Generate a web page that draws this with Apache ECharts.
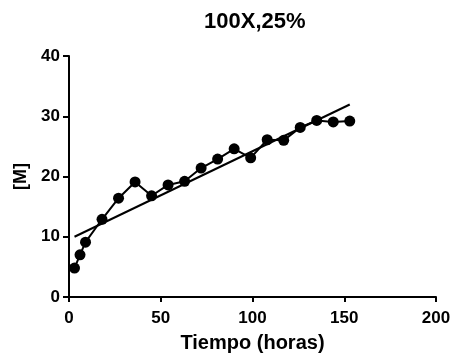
<!DOCTYPE html>
<html>
<head>
<meta charset="utf-8">
<script src="https://cdn.jsdelivr.net/npm/echarts@6/dist/echarts.min.js"></script>
<style>html,body{margin:0;padding:0;background:#fff}#c{width:454px;height:358px}</style>
</head>
<body>
<div id="c"></div>
<script>
var titleText = "100X,25%";
var xName = "Tiempo (horas)";
var yName = "[M]";
var hours = [3, 6, 9, 18, 27, 36, 45, 54, 63, 72, 81, 90, 99, 108, 117, 126, 135, 144, 153];
var conc = [4.8, 7.0, 9.1, 12.9, 16.4, 19.1, 16.8, 18.6, 19.2, 21.4, 22.9, 24.6, 23.1, 26.1, 26.0, 28.15, 29.3, 29.05, 29.2];
var fitX = [3, 153];
var fitY = [10.0, 31.95];

var pts = hours.map(function (h, i) { return [h, conc[i]]; });
var fit = fitX.map(function (h, i) { return [h, fitY[i]]; });
var ff = "Liberation Sans, Arial, sans-serif";

var chart = echarts.init(document.getElementById('c'), null, {renderer: 'canvas'});
chart.setOption({
  animation: false,
  backgroundColor: '#fff',
  title: {
    text: titleText, left: 199, top: 6,
    textStyle: {fontFamily: ff, fontWeight: 'bold', fontSize: 22, color: '#000'}
  },
  grid: {left: 69, right: 18, top: 56, bottom: 60, containLabel: false},
  xAxis: {
    type: 'value', min: 0, max: 200, interval: 50,
    name: xName, nameLocation: 'middle', nameGap: 36,
    nameTextStyle: {fontFamily: ff, fontWeight: 'bold', fontSize: 20, color: '#000'},
    axisLine: {onZero: false, lineStyle: {color: '#000', width: 2}},
    axisTick: {show: true, length: 5, lineStyle: {color: '#000', width: 2}},
    axisLabel: {margin: 13, fontFamily: ff, fontWeight: 'bold', fontSize: 17, color: '#000'},
    splitLine: {show: false}
  },
  yAxis: {
    type: 'value', min: 0, max: 40, interval: 10,
    name: yName, nameLocation: 'middle', nameGap: 39, nameRotate: 90,
    nameTextStyle: {fontFamily: ff, fontWeight: 'bold', fontSize: 18, color: '#000'},
    axisLine: {show: true, onZero: false, lineStyle: {color: '#000', width: 2}},
    axisTick: {show: true, length: 6, lineStyle: {color: '#000', width: 2}},
    axisLabel: {margin: 9, fontFamily: ff, fontWeight: 'bold', fontSize: 17, color: '#000'},
    splitLine: {show: false}
  },
  series: [
    {
      type: 'line', data: fit, symbol: 'none',
      lineStyle: {color: '#000', width: 2}, z: 2
    },
    {
      type: 'line', data: pts, symbol: 'circle', symbolSize: 11,
      itemStyle: {color: '#000', borderWidth: 0},
      lineStyle: {color: '#000', width: 2}, z: 3
    }
  ]
});
</script>
</body>
</html>
